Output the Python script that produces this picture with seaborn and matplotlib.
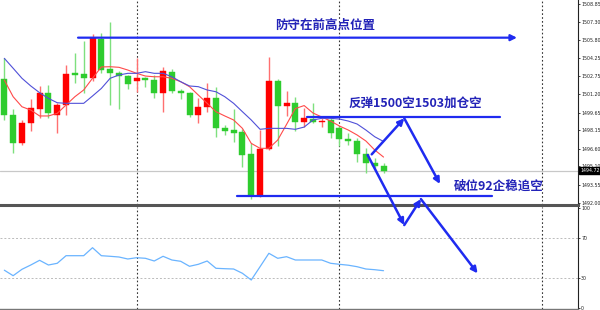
import numpy as np
import pandas as pd
import matplotlib
matplotlib.use("Agg")
import matplotlib.pyplot as plt
import matplotlib.transforms as mtransforms
from matplotlib import font_manager
import seaborn as sns

# ---------------- data ----------------
opens = [1502.50, 1499.45, 1497.05, 1498.75, 1499.96, 1501.29, 1499.45, 1500.30, 1503.03, 1502.92,
         1502.56, 1505.86, 1503.35, 1503.01, 1502.73, 1502.33, 1502.61, 1502.41, 1501.34, 1503.12,
         1501.51, 1501.34, 1499.45, 1500.15, 1500.86, 1498.37, 1498.18, 1497.98, 1496.12, 1492.59,
         1496.54, 1502.33, 1500.21, 1500.49, 1498.83, 1499.11, 1498.83, 1499.03, 1498.32, 1497.39,
         1497.25, 1496.15, 1495.41, 1495.13]
highs = [1504.25, 1499.96, 1499.03, 1500.78, 1501.91, 1501.99, 1500.49, 1503.68, 1504.73, 1505.74,
         1506.31, 1506.37, 1507.33, 1503.18, 1502.84, 1504.25, 1502.69, 1502.84, 1503.49, 1503.35,
         1501.68, 1501.42, 1500.86, 1502.13, 1501.85, 1498.60, 1499.93, 1498.24, 1497.05, 1498.18,
         1504.39, 1502.47, 1501.51, 1500.95, 1500.02, 1500.44, 1499.17, 1499.25, 1498.52, 1497.90,
         1497.48, 1496.63, 1495.78, 1495.41]
lows = [1499.03, 1496.26, 1496.91, 1498.12, 1499.17, 1499.17, 1497.95, 1499.45, 1502.13, 1501.29,
        1502.35, 1502.98, 1500.30, 1499.93, 1501.63, 1501.42, 1501.80, 1500.92, 1499.73, 1501.29,
        1500.78, 1499.31, 1498.75, 1499.73, 1497.61, 1497.76, 1497.19, 1495.02, 1492.31, 1492.53,
        1496.49, 1496.82, 1499.37, 1498.12, 1498.41, 1498.75, 1498.41, 1497.48, 1496.82, 1496.91,
        1495.49, 1494.56, 1494.94, 1494.56]
closes = [1499.45, 1497.10, 1498.75, 1500.02, 1501.29, 1499.59, 1500.30, 1502.92, 1502.86, 1502.61,
          1505.95, 1503.26, 1503.03, 1502.75, 1502.10, 1502.61, 1502.44, 1501.34, 1503.18, 1501.51,
          1501.34, 1499.45, 1500.15, 1500.92, 1498.32, 1498.12, 1497.95, 1496.06, 1492.59, 1496.54,
          1502.33, 1500.21, 1500.49, 1498.83, 1499.17, 1498.88, 1498.88, 1497.90, 1497.39, 1497.25,
          1496.15, 1495.36, 1495.13, 1494.72]
ma_fast = [1502.41, 1501.00, 1500.15, 1499.87, 1499.37, 1499.37, 1499.59, 1500.30, 1501.00, 1501.57,
           1502.56, 1503.52, 1503.54, 1503.49, 1503.26, 1502.98, 1502.75, 1502.69, 1502.69, 1502.56,
           1502.27, 1501.85, 1501.14, 1500.44, 1499.73, 1499.37, 1499.03, 1498.32, 1497.05, 1496.63,
           1496.63, 1497.33, 1498.65, 1500.00, 1500.25, 1499.62, 1499.28, 1498.94, 1498.52, 1498.18,
           1497.76, 1497.25, 1496.49, 1495.89]
ma_slow = [1504.25, 1503.41, 1502.56, 1501.91, 1501.34, 1500.86, 1500.49, 1500.44, 1500.44, 1500.44,
           1501.06, 1501.70, 1502.56, 1502.84, 1502.98, 1502.98, 1503.12, 1502.98, 1502.98, 1502.69,
           1502.27, 1501.91, 1501.85, 1501.57, 1501.42, 1501.00, 1500.44, 1499.73, 1499.03, 1498.24,
           1498.32, 1498.32, 1498.32, 1498.24, 1498.43, 1499.03, 1499.17, 1499.17, 1499.11, 1498.94,
           1498.69, 1498.18, 1497.61, 1497.21]
rsi = [37.5, 32.0, 38.4, 42.7, 47.4, 42.7, 44.4, 52.0, 52.0, 52.0,
       60.0, 52.0, 51.4, 50.7, 48.7, 50.0, 49.4, 46.7, 51.4, 47.7,
       46.4, 41.4, 43.4, 46.7, 39.4, 39.0, 38.7, 34.4, 27.7, 41.0,
       54.4, 49.4, 51.0, 47.7, 47.7, 47.7, 47.7, 44.4, 43.4, 42.5,
       41.0, 38.7, 38.0, 37.0]

price_ticks = [1508.85, 1507.30, 1505.80, 1504.25, 1502.75, 1501.20, 1499.65,
               1498.15, 1496.60, 1495.10, 1493.55, 1492.00]
rsi_ticks = [0, 30, 70, 100]
last_price = 1494.72
session_breaks = [15, 38, 61]

# annotation levels
defend_level = 1506.00
rebound_level = 1499.31
break_level = 1492.61
texts = ["防守在前高点位置", "反弹1500空1503加仓空", "破位92企稳追空"]
# arrow paths (bar index, price)
path_up = [(41.66, 1496.12), (45.35, 1499.17), (49.40, 1493.61)]
path_down = [(41.20, 1496.06), (45.35, 1490.13), (47.24, 1492.33), (53.67, 1486.04)]

# ---------------- style ----------------
sns.set_theme(style="white")
plt.rcParams["font.family"] = ["Noto Sans CJK SC", "DejaVu Sans"]

names = {f.name for f in font_manager.fontManager.ttflist}
TICK_FONT = "Liberation Sans Narrow" if "Liberation Sans Narrow" in names else "DejaVu Sans"
TICK_SIZE = 4.1 if TICK_FONT == "Liberation Sans Narrow" else 3.4

df = pd.DataFrame({"i": np.arange(len(closes)), "open": opens, "high": highs,
                   "low": lows, "close": closes, "ma_fast": ma_fast,
                   "ma_slow": ma_slow, "rsi": rsi})

fig = plt.figure(figsize=(6.0, 3.1), dpi=100)
ax = fig.add_axes([0, 0.3387, 0.9633, 0.6613])
ax2 = fig.add_axes([0, 0.0032, 0.9633, 0.3291])
ax.set_zorder(3)
ax.patch.set_visible(False)

UP_BODY, UP_WICK = "#ff0000", "#ff7070"
DN_BODY, DN_WICK = "#2ecc2e", "#7ee07e"

up = df["close"] >= df["open"]
colors_body = np.where(up, UP_BODY, DN_BODY)
colors_wick = np.where(up, UP_WICK, DN_WICK)

ax.vlines(df["i"], df["low"], df["high"], colors=colors_wick, lw=1.0, zorder=2)
bottom = np.minimum(df["open"], df["close"])
height = np.maximum(np.abs(df["close"] - df["open"]), 0.08)
ax.bar(df["i"], height, bottom=bottom, width=0.68, color=colors_body,
       edgecolor=colors_body, linewidth=0.3, zorder=3)

sns.lineplot(data=df, x="i", y="ma_fast", ax=ax, color="#ff4a4a", lw=0.8, zorder=4)
sns.lineplot(data=df, x="i", y="ma_slow", ax=ax, color="#5050d8", lw=0.8, zorder=4)

ax.axhline(last_price, color="#c8c8c8", lw=0.9, zorder=1)
for b in session_breaks:
    ax.axvline(b, color="#333333", lw=0.8, ls=(0, (1.5, 2)), zorder=1)
    ax2.axvline(b, color="#333333", lw=0.8, ls=(0, (1.5, 2)), zorder=1)

ax.set_xlim(-0.49, 65.05)
ax.set_ylim(1491.83, 1509.19)
ax2.set_xlim(-0.49, 65.05)
ax2.set_ylim(-1.3, 100.7)

# RSI panel
sns.lineplot(data=df, x="i", y="rsi", ax=ax2, color="#6ab4ff", lw=0.9)
for lv in (30, 70):
    ax2.axhline(lv, color="#bbbbbb", lw=0.7, ls=(0, (2, 2)), zorder=0)

# axes cosmetics
for a in (ax, ax2):
    a.set_xlabel("")
    a.set_ylabel("")
    a.set_xticks([])
    a.spines["top"].set_visible(False)
    a.spines["left"].set_visible(False)
    a.spines["right"].set_color("#222222")
    a.spines["right"].set_linewidth(0.8)
    a.yaxis.tick_right()
    a.tick_params(axis="y", right=True, left=False, length=1.5, width=0.6,
                  pad=0.8, labelsize=TICK_SIZE, colors="#222222")
ax.spines["bottom"].set_color("#555555")
ax.spines["bottom"].set_linewidth(2.2)
ax2.spines["bottom"].set_color("#777777")
ax2.spines["bottom"].set_linewidth(1.0)

ax.set_yticks(price_ticks)
ax.set_yticklabels([f"{v:.2f}" for v in price_ticks], family=TICK_FONT)
ax2.set_yticks(rsi_ticks)
ax2.set_yticklabels([str(v) for v in rsi_ticks], family=TICK_FONT)

trans = mtransforms.blended_transform_factory(ax.transAxes, ax.transData)
ax.text(1.004, last_price, f"{last_price:.2f}", transform=trans, ha="left", va="center",
        fontsize=TICK_SIZE, color="white", family=TICK_FONT,
        bbox=dict(boxstyle="square,pad=0.2", fc="black", ec="black"), zorder=10, clip_on=False)

# ---------------- annotations ----------------
LINE_C = "#1f2bf0"
TEXT_C = "#2323b8"
arrow_kw = dict(arrowstyle="-|>", color=LINE_C, lw=1.8, mutation_scale=9,
                shrinkA=0, shrinkB=0)

ax.annotate("", xy=(58.13, defend_level), xytext=(8.36, defend_level),
            arrowprops=dict(arrow_kw, lw=1.6), annotation_clip=False, zorder=6)
ax.plot([34.32, 56.20], [rebound_level, rebound_level], color=LINE_C, lw=1.6, zorder=6)
ax.plot([26.38, 55.29], [break_level, break_level], color=LINE_C, lw=1.6, zorder=6)

for path in (path_up, path_down):
    for (x0, y0), (x1, y1) in zip(path[:-1], path[1:]):
        ax.annotate("", xy=(x1, y1), xytext=(x0, y0), arrowprops=arrow_kw,
                    annotation_clip=False, zorder=7)

ax.text(36.36, 1507.07, texts[0], ha="center", va="center", fontsize=9,
        color=TEXT_C, zorder=8, fontweight="bold")
ax.text(46.57, 1500.49, texts[1], ha="center", va="center", fontsize=9,
        color=TEXT_C, zorder=8, fontweight="bold")
ax.text(56.09, 1493.44, texts[2], ha="center", va="center", fontsize=9,
        color=TEXT_C, zorder=8, fontweight="bold")

fig.savefig("out.png", dpi=100)
